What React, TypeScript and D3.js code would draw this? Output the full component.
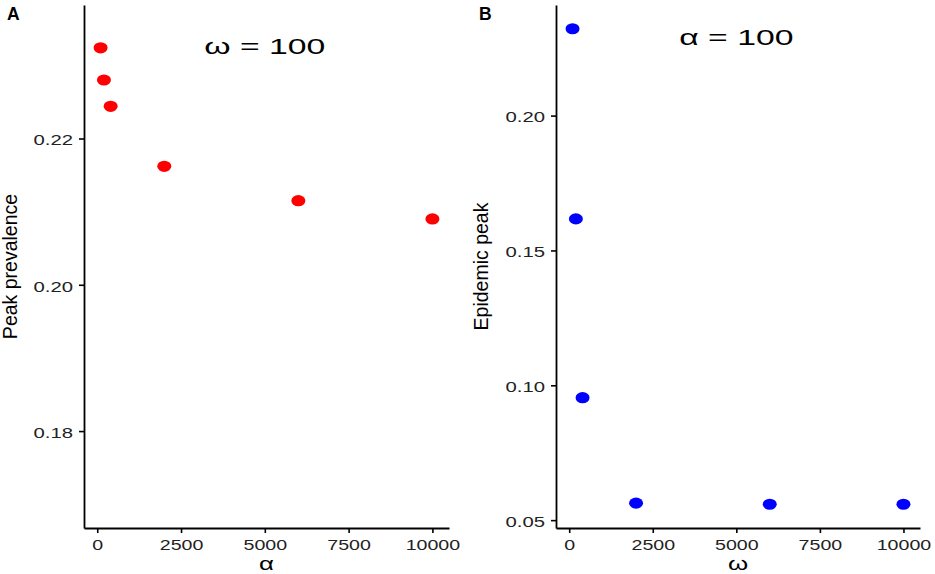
import React, { useRef, useEffect } from "react";
import * as d3 from "d3";

// panel A: peak prevalence against alpha (omega fixed at 100)
const alphaValues = [100, 200, 400, 2000, 6000, 10000];
const peakPrevalence = [0.2324, 0.228, 0.2244, 0.2162, 0.2115, 0.209];
const prevalenceLimits = [0.17, 0.235];
const prevalenceTicks = [0.18, 0.2, 0.22];

// panel B: epidemic peak against omega (alpha fixed at 100)
const omegaValues = [100, 200, 400, 2000, 6000, 10000];
const epidemicPeak = [0.2322, 0.1617, 0.0954, 0.0563, 0.0559, 0.0559];
const epidemicTicks = [0.05, 0.1, 0.15, 0.2];

const xTickValues = [0, 2500, 5000, 7500, 10000];
const annotationX = 5000;

const FONT = "'Liberation Sans', Arial, Helvetica, sans-serif";
const STRETCH = 1.4;

// ggplot-style 5% expansion
const expand = (lo: number, hi: number) => {
  const pad = (hi - lo) * 0.05;
  return [lo - pad, hi + pad];
};

type Panel = {
  left: number;
  right: number;
  top: number;
  bottom: number;
  xs: number[];
  ys: number[];
  yDomain: number[];
  yTicks: number[];
  color: string;
  tag: string;
  yTitle: string;
  yTitleX: number;
  xTitle: string;
  annot: string;
  annotY: number;
};

const App: React.FC = () => {
  const svgRef = useRef<SVGSVGElement | null>(null);

  useEffect(() => {
    const svg = d3.select(svgRef.current);
    svg.selectAll("*").remove();

    const panels: Panel[] = [
      {
        left: 84,
        right: 449,
        top: 5,
        bottom: 528,
        xs: alphaValues,
        ys: peakPrevalence,
        yDomain: expand(prevalenceLimits[0], prevalenceLimits[1]),
        yTicks: prevalenceTicks,
        color: "#ff0000",
        tag: "A",
        yTitle: "Peak prevalence",
        yTitleX: 17,
        xTitle: "α",
        annot: "ω = 100",
        annotY: 0.2327,
      },
      {
        left: 556,
        right: 920,
        top: 5,
        bottom: 528,
        xs: omegaValues,
        ys: epidemicPeak,
        yDomain: expand(d3.min(epidemicPeak) ?? 0, d3.max(epidemicPeak) ?? 0),
        yTicks: epidemicTicks,
        color: "#0000ff",
        tag: "B",
        yTitle: "Epidemic peak",
        yTitleX: 488,
        xTitle: "ω",
        annot: "α = 100",
        annotY: 0.2292,
      },
    ];

    panels.forEach((p) => {
      const x = d3
        .scaleLinear()
        .domain(expand(d3.min(p.xs) ?? 0, d3.max(p.xs) ?? 0))
        .range([p.left, p.right]);
      const y = d3.scaleLinear().domain(p.yDomain).range([p.bottom, p.top]);

      const g = svg.append("g");

      // axes
      const xAxis = g
        .append("g")
        .attr("transform", `translate(0,${p.bottom})`)
        .call(
          d3
            .axisBottom(x)
            .tickValues(xTickValues)
            .tickSize(5)
            .tickSizeOuter(0)
            .tickFormat(d3.format("d") as any)
        );
      xAxis.select(".domain").attr("stroke-width", 1.8);
      xAxis.selectAll(".tick line").attr("stroke-width", 1.6);
      xAxis
        .selectAll(".tick text")
        .attr("y", 0)
        .attr("dy", 0)
        .attr("transform", `translate(0,22) scale(${STRETCH},1)`)
        .attr("fill", "#222")
        .style("font-family", FONT)
        .style("font-size", "14px");

      const yAxis = g
        .append("g")
        .attr("transform", `translate(${p.left},0)`)
        .call(
          d3
            .axisLeft(y)
            .tickValues(p.yTicks)
            .tickSize(5)
            .tickSizeOuter(0)
            .tickFormat(d3.format(".2f") as any)
        );
      yAxis.select(".domain").attr("stroke-width", 1.8);
      yAxis.selectAll(".tick line").attr("stroke-width", 1.6);
      yAxis
        .selectAll(".tick text")
        .attr("x", 0)
        .attr("dy", "0.36em")
        .attr("transform", `translate(-11,1) scale(${STRETCH},1)`)
        .attr("fill", "#222")
        .style("font-family", FONT)
        .style("font-size", "14.5px");

      // points
      g.selectAll("ellipse")
        .data(p.xs.map((v, i) => ({ x: v, y: p.ys[i] })))
        .join("ellipse")
        .attr("cx", (d) => x(d.x))
        .attr("cy", (d) => y(d.y))
        .attr("rx", 7)
        .attr("ry", 5.6)
        .attr("fill", p.color);

      // annotation
      g.append("text")
        .attr(
          "transform",
          `translate(${x(annotationX)},${y(p.annotY) + 8}) scale(1.5,1)`
        )
        .attr("text-anchor", "middle")
        .style("font-family", FONT)
        .style("font-size", "22.5px")
        .attr("fill", "#000")
        .text(p.annot);

      // x title
      g.append("text")
        .attr(
          "transform",
          `translate(${(p.left + p.right) / 2},570) scale(1.4,1)`
        )
        .attr("text-anchor", "middle")
        .style("font-family", FONT)
        .style("font-size", "18.5px")
        .text(p.xTitle);

      // y title
      g.append("text")
        .attr(
          "transform",
          `translate(${p.yTitleX},${(p.top + p.bottom) / 2}) rotate(-90)`
        )
        .attr("text-anchor", "middle")
        .style("font-family", FONT)
        .style("font-size", "19.5px")
        .text(p.yTitle);

      // panel tag
      g.append("text")
        .attr("x", p.left - 77)
        .attr("y", 19.5)
        .style("font-family", FONT)
        .style("font-size", "17.5px")
        .style("font-weight", "bold")
        .text(p.tag);
    });
  }, []);

  return (
    <div style={{ position: "absolute", left: 0, top: 0 }}>
      <svg ref={svgRef} width={935} height={574} style={{ display: "block" }} />
    </div>
  );
};

export default App;
